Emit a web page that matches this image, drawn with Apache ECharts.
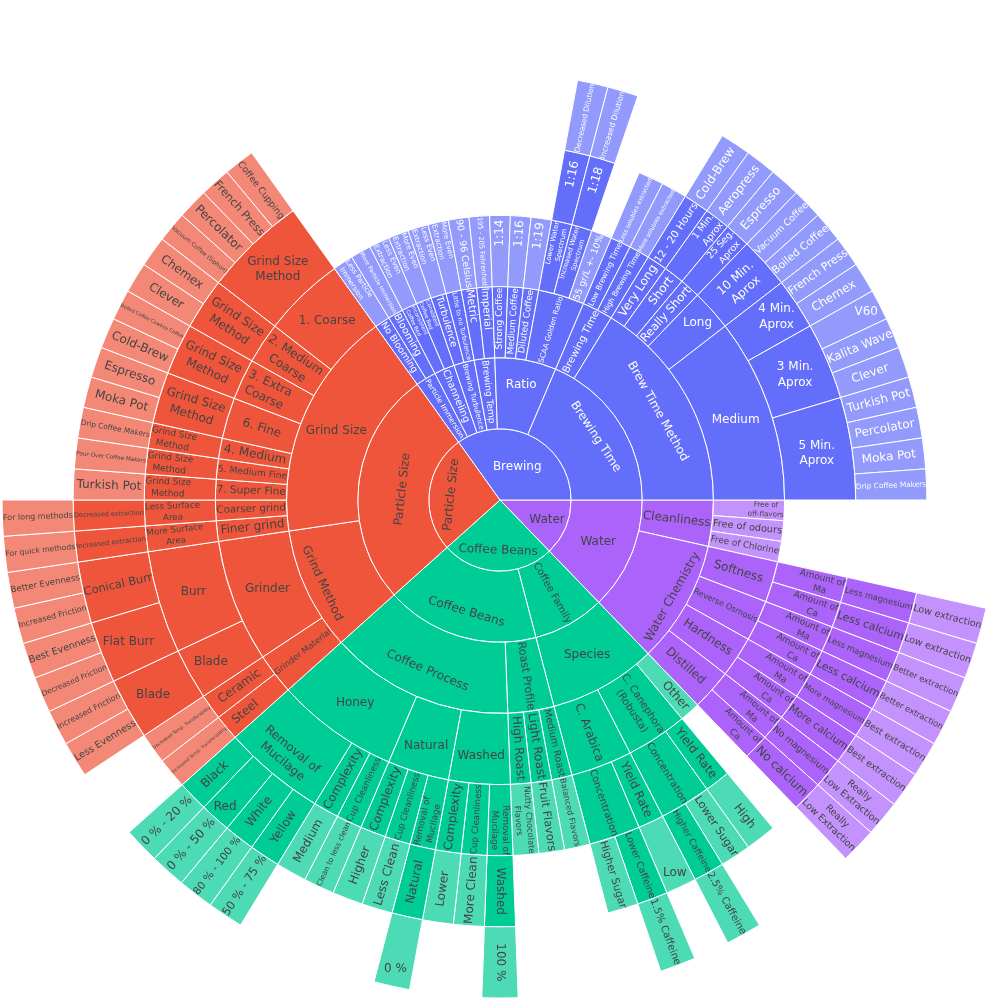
<!DOCTYPE html>
<html>
<head>
<meta charset="utf-8">
<script src="https://cdn.jsdelivr.net/npm/echarts@6/dist/echarts.min.js"></script>
<style>
  html, body { margin: 0; background: #fff; }
  #chart { width: 1000px; height: 1000px; }
</style>
</head>
<body>
<div id="chart"></div>
<script>
// leaf paths, listed counterclockwise from 3 o'clock (every leaf counts 1)
const brewing = [
  'Brewing > Brewing Time > Brew Time Method > Medium > 5 Min.\nAprox > Drip Coffee Makers',
  'Brewing > Brewing Time > Brew Time Method > Medium > 5 Min.\nAprox > Moka Pot',
  'Brewing > Brewing Time > Brew Time Method > Medium > 5 Min.\nAprox > Percolator',
  'Brewing > Brewing Time > Brew Time Method > Medium > 5 Min.\nAprox > Turkish Pot',
  'Brewing > Brewing Time > Brew Time Method > Medium > 3 Min.\nAprox > Clever',
  'Brewing > Brewing Time > Brew Time Method > Medium > 3 Min.\nAprox > Kalita Wave',
  'Brewing > Brewing Time > Brew Time Method > Medium > 3 Min.\nAprox > V60',
  'Brewing > Brewing Time > Brew Time Method > Medium > 4 Min.\nAprox > Chemex',
  'Brewing > Brewing Time > Brew Time Method > Medium > 4 Min.\nAprox > French Press',
  'Brewing > Brewing Time > Brew Time Method > Long > 10 Min.\nAprox > Boiled Coffee',
  'Brewing > Brewing Time > Brew Time Method > Long > 10 Min.\nAprox > Vacuum Coffee',
  'Brewing > Brewing Time > Brew Time Method > Really Short > 25 Seg.\nAprox > Espresso',
  'Brewing > Brewing Time > Brew Time Method > Short > 1 Min.\nAprox > Aeropress',
  'Brewing > Brewing Time > Brew Time Method > Very Long > 12 - 20 Hours > Cold-Brew',
  'Brewing > Brewing Time > Brewing Time > High Brewing Time > More solubles extracted',
  'Brewing > Brewing Time > Brewing Time > Low Brewing Time > Less solubles extracted',
  'Brewing > Ratio > SCAA Golden Ratio > 55 gr/L +- 10%',
  'Brewing > Ratio > SCAA Golden Ratio > Increased Water\nSpectrum > 1:18 > Increased Dilution',
  'Brewing > Ratio > SCAA Golden Ratio > Lower Water\nSpectrum > 1:16 > Decreased Dilution',
  'Brewing > Ratio > Diluted Coffee > 1:19',
  'Brewing > Ratio > Medium Coffee > 1:16',
  'Brewing > Ratio > Strong Coffee > 1:14',
  'Brewing > Brewing Temp > Imperial > 195 - 205 Fahrenheit',
  'Brewing > Brewing Temp > Metric > 90 - 96 Celsius',
  'Brewing > Brewing Turbulence > Little to no Turbulence > More Even\nExtraction',
  'Brewing > Brewing Turbulence > Turbulence > Less Even\nExtraction',
  'Brewing > Channeling > Consistent\nCoffee Bed > More Even\nExtraction',
  'Brewing > Channeling > Inconsistent\nCoffee Bed > Less Even\nExtraction',
  'Brewing > Particle Immersion > Blooming > More Particle Immersion',
  'Brewing > Particle Immersion > No Blooming > Less Particle\nImmersion'
];

const particleSize = [
  'Particle Size > Particle Size > Grind Size > 1. Coarse > Grind Size\nMethod > Coffee Cupping',
  'Particle Size > Particle Size > Grind Size > 1. Coarse > Grind Size\nMethod > French Press',
  'Particle Size > Particle Size > Grind Size > 1. Coarse > Grind Size\nMethod > Percolator',
  'Particle Size > Particle Size > Grind Size > 1. Coarse > Grind Size\nMethod > Vacuum Coffee (Siphon)',
  'Particle Size > Particle Size > Grind Size > 2. Medium\nCoarse > Grind Size\nMethod > Chemex',
  'Particle Size > Particle Size > Grind Size > 2. Medium\nCoarse > Grind Size\nMethod > Clever',
  'Particle Size > Particle Size > Grind Size > 3. Extra\nCoarse > Grind Size\nMethod > Boiled Coffee Cowboy Coffee',
  'Particle Size > Particle Size > Grind Size > 3. Extra\nCoarse > Grind Size\nMethod > Cold-Brew',
  'Particle Size > Particle Size > Grind Size > 6. Fine > Grind Size\nMethod > Espresso',
  'Particle Size > Particle Size > Grind Size > 6. Fine > Grind Size\nMethod > Moka Pot',
  'Particle Size > Particle Size > Grind Size > 4. Medium > Grind Size\nMethod > Drip Coffee Makers',
  'Particle Size > Particle Size > Grind Size > 5. Medium Fine > Grind Size\nMethod > Pour-Over Coffee Makers',
  'Particle Size > Particle Size > Grind Size > 7. Super Fine > Grind Size\nMethod > Turkish Pot',
  'Particle Size > Particle Size > Grind Size > Coarser grind > Less Surface\nArea > Decreased extraction > For long methods',
  'Particle Size > Particle Size > Grind Size > Finer grind > More Surface\nArea > Increased extraction > For quick methods',
  'Particle Size > Particle Size > Grind Method > Grinder > Burr > Conical Burr > Better Evenness',
  'Particle Size > Particle Size > Grind Method > Grinder > Burr > Conical Burr > Increased Friction',
  'Particle Size > Particle Size > Grind Method > Grinder > Burr > Flat Burr > Best Evenness',
  'Particle Size > Particle Size > Grind Method > Grinder > Burr > Flat Burr > Decreased Friction',
  'Particle Size > Particle Size > Grind Method > Grinder > Blade > Blade > Increased Friction',
  'Particle Size > Particle Size > Grind Method > Grinder > Blade > Blade > Less Evenness',
  'Particle Size > Particle Size > Grind Method > Grinder Material > Ceramic > Decreased Temp. Transferability',
  'Particle Size > Particle Size > Grind Method > Grinder Material > Steel > Increased Temp. Transferability'
];

const coffeeBeans = [
  'Coffee Beans > Coffee Beans > Coffee Process > Honey > Removal of\nMucilage > Black > 0 % - 20 %',
  'Coffee Beans > Coffee Beans > Coffee Process > Honey > Removal of\nMucilage > Red > 0 % - 50 %',
  'Coffee Beans > Coffee Beans > Coffee Process > Honey > Removal of\nMucilage > White > 80 % - 100 %',
  'Coffee Beans > Coffee Beans > Coffee Process > Honey > Removal of\nMucilage > Yellow > 50 % - 75 %',
  'Coffee Beans > Coffee Beans > Coffee Process > Honey > Complexity > Medium',
  'Coffee Beans > Coffee Beans > Coffee Process > Honey > Cup Cleanliness > Clean to less clean',
  'Coffee Beans > Coffee Beans > Coffee Process > Natural > Complexity > Higher',
  'Coffee Beans > Coffee Beans > Coffee Process > Natural > Cup Cleanliness > Less Clean',
  'Coffee Beans > Coffee Beans > Coffee Process > Natural > Removal of\nMucilage > Natural > 0 %',
  'Coffee Beans > Coffee Beans > Coffee Process > Washed > Complexity > Lower',
  'Coffee Beans > Coffee Beans > Coffee Process > Washed > Cup Cleanliness > More Clean',
  'Coffee Beans > Coffee Beans > Coffee Process > Washed > Removal of\nMucilage > Washed > 100 %',
  'Coffee Beans > Coffee Beans > Roast Profile > High Roast > Nutty Chocolate\nFlavors',
  'Coffee Beans > Coffee Beans > Roast Profile > Light Roast > Fruit Flavors',
  'Coffee Beans > Coffee Beans > Roast Profile > Medium Roast > Balanced Flavors',
  'Coffee Beans > Coffee Family > Species > C. Arabica > Concentration > Higher Sugar',
  'Coffee Beans > Coffee Family > Species > C. Arabica > Concentration > Lower Caffeine > 1.5% Caffeine',
  'Coffee Beans > Coffee Family > Species > C. Arabica > Yield Rate > Low',
  'Coffee Beans > Coffee Family > Species > C. Canephora\n(Robusta) > Concentration > Higher Caffeine > 2.5% Caffeine',
  'Coffee Beans > Coffee Family > Species > C. Canephora\n(Robusta) > Concentration > Lower Sugar',
  'Coffee Beans > Coffee Family > Species > C. Canephora\n(Robusta) > Yield Rate > High',
  'Coffee Beans > Coffee Family > Species > Other'
];

const water = [
  'Water > Water > Water Chemistry > Distilled > Amount of\nCa > No calcium > Really\nLow Extraction',
  'Water > Water > Water Chemistry > Distilled > Amount of\nMa > No magnesium > Really\nLow Extraction',
  'Water > Water > Water Chemistry > Hardness > Amount of\nCa > More calcium > Best extraction',
  'Water > Water > Water Chemistry > Hardness > Amount of\nMa > More magnesium > Best extraction',
  'Water > Water > Water Chemistry > Reverse Osmosis > Amount of\nCa > Less calcium > Better extraction',
  'Water > Water > Water Chemistry > Reverse Osmosis > Amount of\nMa > Less magnesium > Better extraction',
  'Water > Water > Water Chemistry > Softness > Amount of\nCa > Less calcium > Low extraction',
  'Water > Water > Water Chemistry > Softness > Amount of\nMa > Less magnesium > Low extraction',
  'Water > Water > Cleanliness > Free of Chlorine',
  'Water > Water > Cleanliness > Free of odours',
  'Water > Water > Cleanliness > Free of\noff-flavors'
];

const families = [brewing, particleSize, coffeeBeans, water];
const familyColors = ['#636efa', '#EF553B', '#00cc96', '#ab63fa'];
const familyText = ['#ffffff', '#444444', '#444444', '#444444'];

const R = 498, DEPTH = 7, RING = R / DEPTH;
const BASE = 12, TEXTPAD = 3, LINE = 1.3, BOXH = 1.17;
const FONT = '"DejaVu Sans", Verdana, sans-serif';

function buildTree(paths) {
  const top = { children: [] };
  paths.forEach(p => {
    let node = top;
    p.split(' > ').forEach(name => {
      let child = node.children.find(c => c.name === name);
      if (!child) { child = { name: name, children: [] }; node.children.push(child); }
      node = child;
    });
  });
  return top.children[0];
}

function countLeaves(n) {
  if (!n.children.length) return (n.leaves = 1);
  n.leaves = n.children.reduce((s, c) => s + countLeaves(c), 0);
  return n.leaves;
}

function lighten(hex, a) {
  const v = parseInt(hex.slice(1), 16);
  const mix = c => Math.round(c * a + 255 * (1 - a));
  return `rgb(${mix(v >> 16)},${mix((v >> 8) & 255)},${mix(v & 255)})`;
}

// plotly-like inside text fitting
const ctx = document.createElement('canvas').getContext('2d');
ctx.font = BASE + 'px ' + FONT;

function maxHalf(a, half, r, ring) {
  const q = a + 1 / (2 * Math.tan(half));
  return r * Math.min(1 / (Math.sqrt(q * q + 0.5) + q), ring / (Math.sqrt(a * a + ring / 2) + a));
}

function normDeg(d) {
  d = ((d % 360) + 360) % 360;
  if (d > 90 && d <= 270) d -= 180;
  if (d > 270) d -= 360;
  return d;
}

function fitLabel(label, r0, r1, a0, a1) {
  const lines = label.split('\n');
  const w = Math.max(...lines.map(l => ctx.measureText(l).width));
  const h = BASE * (BOXH + LINE * (lines.length - 1));
  const span = a1 - a0, mid = (a0 + a1) / 2;
  const half = 0.5 * Math.min(span, Math.PI);
  const ring = 1 - r0 / r1;
  const rIn = Math.max(0, Math.min(1 / (1 + 1 / Math.sin(half)), ring / 2));
  const hor = { rot: 0, scale: rIn * r1 * 2 / Math.hypot(w, h), rc: 1 - rIn };
  let best = hor;
  if (hor.scale < 1) {
    const rr = Math.max(0, r1 - 2 * TEXTPAD);
    const ta = h / w, st = maxHalf(ta, half, rr, ring);
    const tan = { rot: normDeg(mid * 180 / Math.PI - 90), scale: st * 2 / w, rc: Math.cos(st / rr) - ta * st / rr };
    const ra = w / h, sr = maxHalf(ra, half, rr, ring);
    const rad = { rot: normDeg(mid * 180 / Math.PI), scale: sr * 2 / h, rc: Math.cos(sr / rr) - ra * sr / rr };
    if (tan.scale > best.scale) best = tan;
    if (rad.scale > best.scale) best = rad;
  }
  const fs = BASE * Math.min(1, best.scale);
  // move from echarts' mid-ring anchor to plotly's text centre (local text axes)
  const dr = best.rc * r1 - (r0 + r1) / 2;
  const th = best.rot * Math.PI / 180;
  const lx = dr * Math.cos(mid - th), ly = -dr * Math.sin(mid - th);
  const blockH = lines.length * fs * LINE;
  return {
    rotate: best.rot,
    fontSize: fs,
    padding: [ly - blockH / 2, Math.max(0, -2 * lx), 0, Math.max(0, 2 * lx)]
  };
}

const TOTAL = families.reduce((s, f) => s + f.length, 0);

function toSeries(n, depth, fi, a0) {
  const a1 = a0 + n.leaves / TOTAL * Math.PI * 2;
  const r0 = (depth - 1) * RING, r1 = depth * RING;
  const fit = fitLabel(n.name, r0, r1, a0, a1);
  const out = {
    name: n.name,
    itemStyle: { color: n.children.length ? familyColors[fi] : lighten(familyColors[fi], 0.7) },
    label: {
      rotate: fit.rotate,
      fontSize: fit.fontSize,
      lineHeight: fit.fontSize * LINE,
      verticalAlign: 'top',
      padding: fit.padding,
      color: familyText[fi]
    }
  };
  if (n.children.length) {
    let a = a0;
    const kids = n.children.map(c => { const k = toSeries(c, depth + 1, fi, a); a += c.leaves / TOTAL * Math.PI * 2; return k; });
    // echarts lays out clockwise; the reference runs counterclockwise
    out.children = kids.reverse();
  } else {
    out.value = 1;
  }
  return out;
}

let start = 0;
const data = families.map((f, i) => {
  const t = buildTree(f);
  countLeaves(t);
  const node = toSeries(t, 1, i, start);
  start += t.leaves / TOTAL * Math.PI * 2;
  return node;
}).reverse();

const chart = echarts.init(document.getElementById('chart'), null, { renderer: 'canvas' });
chart.setOption({
  animation: false,
  series: [{
    type: 'sunburst',
    center: ['50%', '50%'],
    radius: [0, R],
    startAngle: 0,
    clockwise: true,
    sort: null,
    nodeClick: false,
    data: data,
    itemStyle: { borderColor: '#ffffff', borderWidth: 1 },
    label: {
      show: true,
      position: 'inside',
      minAngle: 0,
      fontFamily: FONT,
      textBorderWidth: 0
    },
    emphasis: { disabled: true }
  }]
});
</script>
</body>
</html>
